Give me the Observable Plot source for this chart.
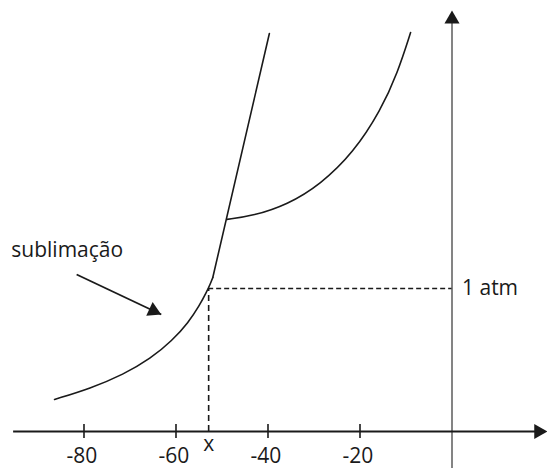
<!DOCTYPE html>
<html>
<head>
<meta charset="utf-8">
<script src="https://cdn.jsdelivr.net/npm/d3@7"></script>
<script src="https://cdn.jsdelivr.net/npm/@observablehq/plot@0.6"></script>
<style>
  html, body { margin: 0; padding: 0; background: #fff; }
</style>
</head>
<body>
<div id="chart"></div>
<script>
// Sublimation curve (temperature °C, pressure in atm-like units)
const sublimationT = [-86.4, -78.6, -71.4, -65.5, -60.8, -57.3, -54.9, -53.4, -52.5, -52.0];
const sublimationP = [0.224, 0.301, 0.399, 0.510, 0.636, 0.762, 0.881, 0.972, 1.035, 1.077];
// Fusion line (straight)
const fusionT = [-52.0, -39.7];
const fusionP = [1.077, 2.783];
// Vaporization curve
const vaporT = [-48.9, -43.2, -35.8, -28.6, -21.4, -15.5, -11.8, -9.0];
const vaporP = [1.483, 1.508, 1.586, 1.727, 1.951, 2.245, 2.510, 2.790];
// Axis ticks
const tickValues = [-80, -60, -40, -20];
const tickLabels = ["-80", "-60", "-40", "-20"];
// Reference point at 1 atm
const markT = [-52.9];
const markLabel = ["x"];
const refP = [1];
const refLabel = ["1 atm"];
// Annotation
const annotLabel = ["sublimação"];
const annotLabelT = [-95.8], annotLabelP = [1.217];
const arrowFromT = [-81.6], arrowFromP = [1.098];
const arrowToT = [-63.2], arrowToP = [0.818];

const sub = sublimationT.map((t, i) => ({t, p: sublimationP[i]}));
const fus = fusionT.map((t, i) => ({t, p: fusionP[i]}));
const vap = vaporT.map((t, i) => ({t, p: vaporP[i]}));
const ticks = tickValues.map((v, i) => ({v, label: tickLabels[i]}));

const xMin = -98.15, xMax = 20.76, yMin = -0.259, yMax = 3.014;
const ink = "#1a1a1a";
const font = "Open Sans";
const fs = 21;

const chart = Plot.plot({
  width: 547,
  height: 468,
  margin: 0,
  style: {fontFamily: font, background: "#fff"},
  x: {domain: [xMin, xMax], axis: null},
  y: {domain: [yMin, yMax], axis: null},
  marks: [
    // y-axis (at 0 °C)
    Plot.ruleX([0], {y1: yMin, y2: 2.90, stroke: "#666", strokeWidth: 1.6}),
    Plot.dot([0], {x: d => d, y: 2.944, dy: 8.7, symbol: "triangle", r: 5.6, fill: ink, stroke: null}),
    // x-axis
    Plot.ruleY([0], {x1: -95.3, x2: 19.5, stroke: ink, strokeWidth: 2}),
    Plot.dot([0], {x: xMax, y: d => d, dx: -8.9, symbol: "triangle", rotate: 90, r: 5.6, fill: ink, stroke: null}),
    // tick marks + labels
    Plot.ruleX(ticks, {x: "v", y1: -0.049, y2: 0.049, stroke: ink, strokeWidth: 1.6}),
    Plot.text(ticks, {x: "v", y: 0, text: "label", dy: 25, dx: -2, lineAnchor: "middle", fontSize: fs, fill: ink, fontFamily: font}),
    Plot.text(markT, {x: d => d, y: 0, text: markLabel, dy: 13, lineAnchor: "middle", fontSize: fs, fill: ink, fontFamily: font}),
    // dashed reference lines
    Plot.ruleX(markT, {x: d => d, y1: 0, y2: refP[0], stroke: ink, strokeWidth: 1.6, strokeDasharray: "6,4"}),
    Plot.ruleY(refP, {y: d => d, x1: markT[0], x2: 0, stroke: ink, strokeWidth: 1.4, strokeDasharray: "5,3"}),
    Plot.text(refP, {x: 0, y: d => d, text: refLabel, dx: 10, textAnchor: "start", lineAnchor: "middle", fontSize: fs, fill: ink, fontFamily: font}),
    // phase curves
    Plot.line(sub, {x: "t", y: "p", curve: "basis", stroke: ink, strokeWidth: 1.6}),
    Plot.line(fus, {x: "t", y: "p", stroke: ink, strokeWidth: 1.6}),
    Plot.line(vap, {x: "t", y: "p", curve: "basis", stroke: ink, strokeWidth: 1.6}),
    // annotation
    Plot.text(annotLabel, {x: annotLabelT[0], y: annotLabelP[0], text: d => d, textAnchor: "start", lineAnchor: "bottom", fontSize: fs, fill: ink, fontFamily: font}),
    Plot.link([0], {x1: arrowFromT[0], y1: arrowFromP[0], x2: arrowToT[0], y2: arrowToP[0], stroke: ink, strokeWidth: 1.8}),
    Plot.dot([0], {x: arrowToT[0], y: arrowToP[0], dx: -7.9, dy: -3.7, symbol: "triangle", rotate: 115.2, r: 5.6, fill: ink, stroke: null})
  ]
});
document.getElementById("chart").appendChild(chart);
</script>
</body>
</html>
